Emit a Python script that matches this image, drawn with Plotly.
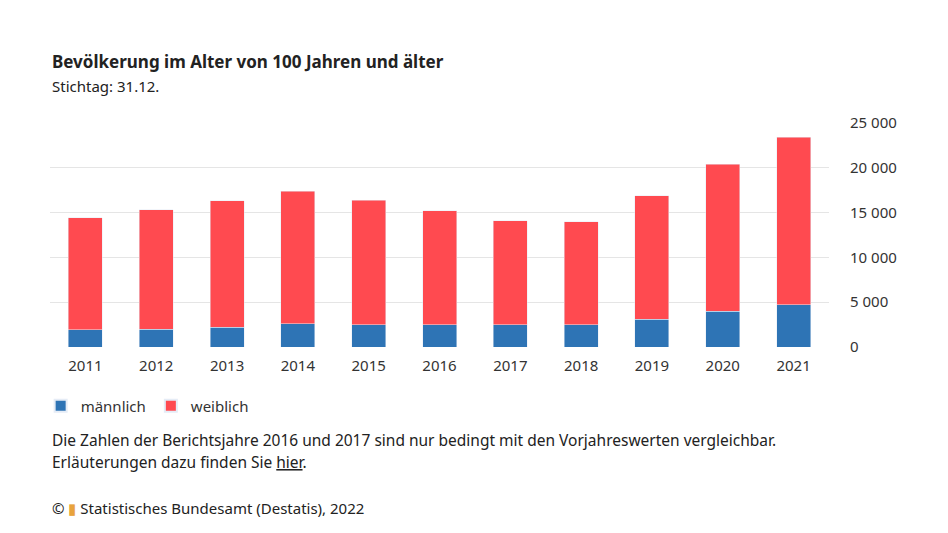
import plotly.graph_objects as go

years = ["2011","2012","2013","2014","2015","2016","2017","2018","2019","2020","2021"]
total = [14400,15300,16300,17400,16400,15200,14100,14000,16900,20400,23400]
maennlich = [1900,2000,2200,2600,2500,2500,2500,2500,3100,4000,4700]
weiblich = [t-m for t,m in zip(total,maennlich)]

fig = go.Figure()
fig.add_bar(x=years, y=maennlich, name="männlich", marker_color="#2e74b5", width=0.48)
fig.add_bar(x=years, y=weiblich, name="weiblich", marker_color="#ff4a50", width=0.48)

fig.update_layout(
    barmode="stack", width=948, height=533, plot_bgcolor="white", paper_bgcolor="white",
    margin=dict(l=42, r=127, t=115, b=194),
    font=dict(family="Noto Sans", size=14, color="#333"),
    showlegend=True, bargap=0.5,
    legend=dict(orientation="h", x=-0.012, y=1-(406-123)/224, xanchor="left", yanchor="middle",
                font=dict(size=15), itemsizing="constant", traceorder="normal"),
    xaxis=dict(showgrid=False, ticks="outside", ticklen=5, tickcolor="rgba(0,0,0,0)", tickfont=dict(size=15)),
    yaxis=dict(side="right", range=[0,25000], tickvals=[0,5000,10000,15000,20000,25000],
               ticktext=["0","5 000","10 000","15 000","20 000","25 000"],
               gridcolor="#e5e5e5", zeroline=False, tickfont=dict(size=15), ticklabelstandoff=20),
)
ann = [
    dict(y=62, text="<b>Bevölkerung im Alter von 100 Jahren und älter</b>", size=17),
    dict(y=86, text="Stichtag: 31.12.", size=15),
    dict(y=440, text="Die Zahlen der Berichtsjahre 2016 und 2017 sind nur bedingt mit den Vorjahreswerten vergleichbar.", size=15.5),
    dict(y=462, text="Erläuterungen dazu finden Sie <u>hier</u>.", size=15.5),
    dict(y=508, text="© <span style='color:#e8a33d'>▮</span> Statistisches Bundesamt (Destatis), 2022", size=15),
]
for a in ann:
    fig.add_annotation(xref="paper", yref="paper", x=0, y=1-(a["y"]-123)/224,
                       text=a["text"], showarrow=False, xanchor="left", yanchor="middle",
                       font=dict(size=a["size"], color="#222"))
fig.write_html("out.html")
